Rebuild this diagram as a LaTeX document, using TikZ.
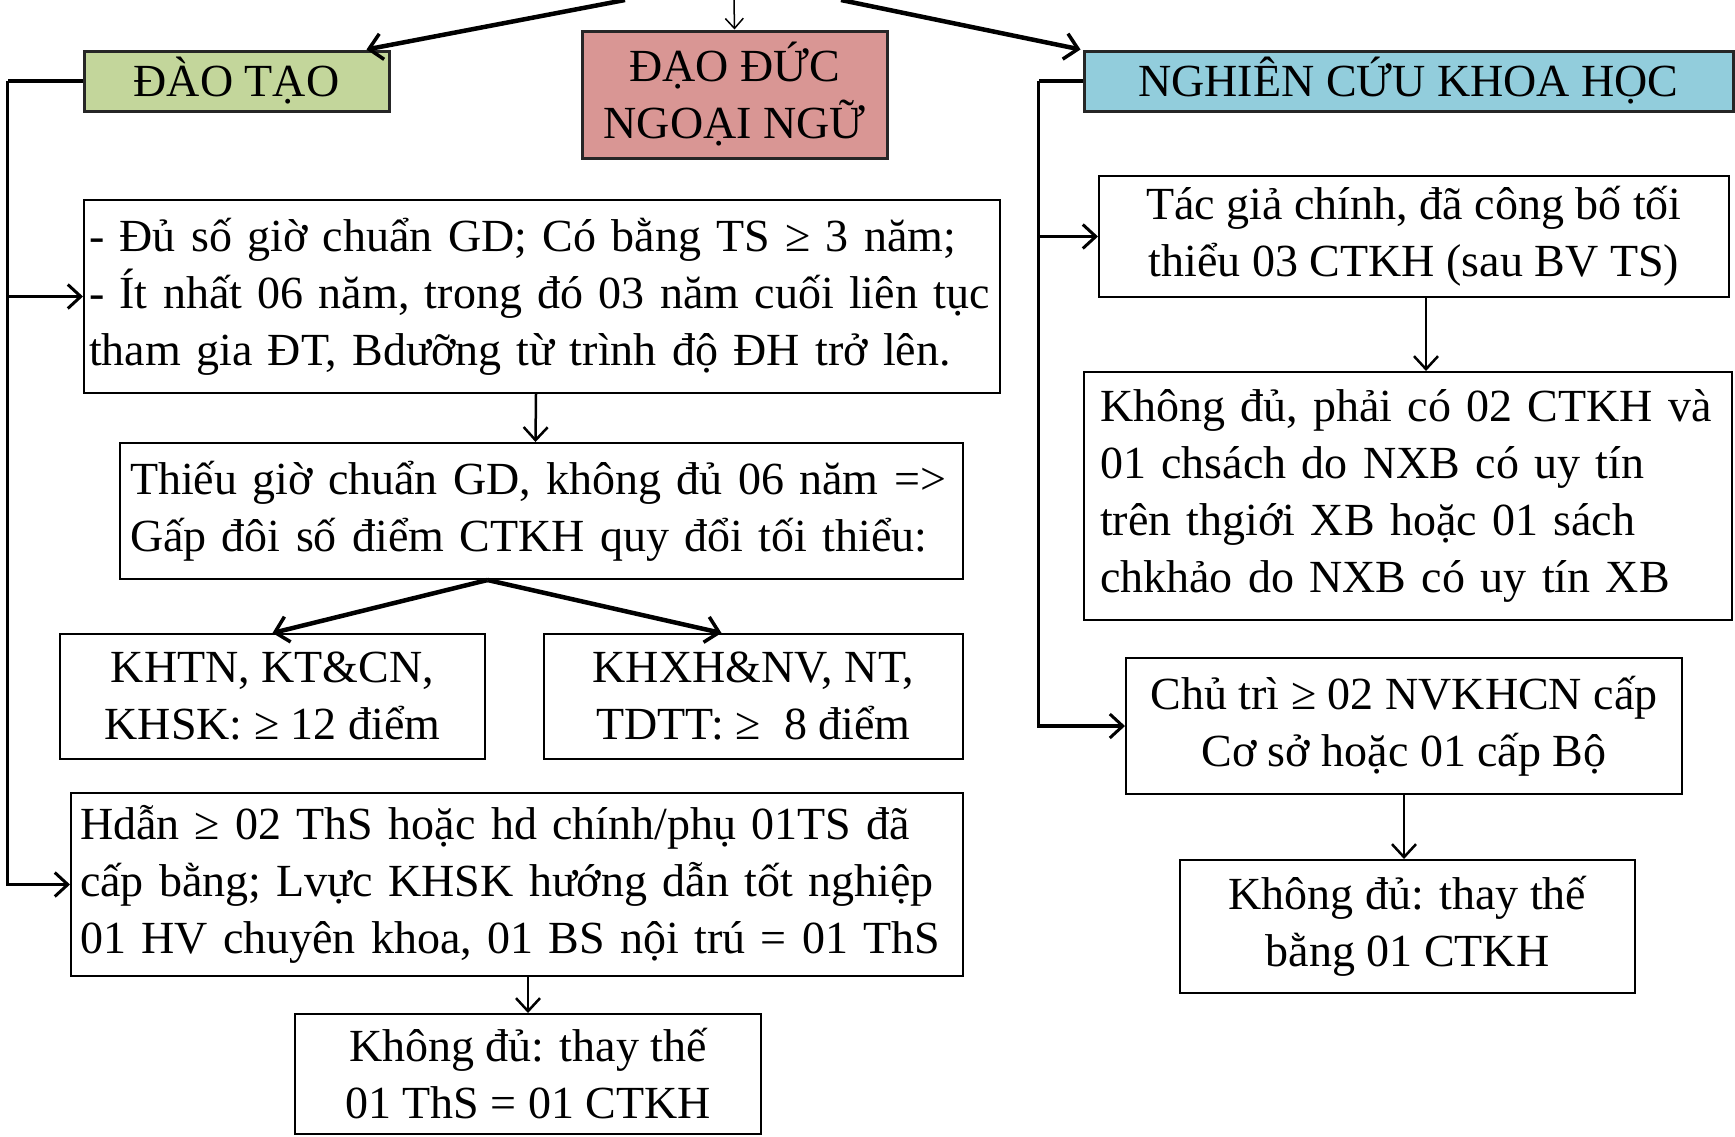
\documentclass[tikz,border=0pt]{standalone}
\usepackage{fontspec}
\setmainfont{Liberation Serif}
\usetikzlibrary{arrows.meta,calc}
\definecolor{dtgreen}{HTML}{C3D69B}
\definecolor{ddpink}{HTML}{D99694}
\definecolor{ncblue}{HTML}{92CDDC}
\tikzset{
  box/.style={draw=black, line width=2pt, inner sep=0pt, inner xsep=5pt,
    font=\fontsize{46}{57}\selectfont},
  hdr/.style={box, line width=3pt, draw=black!85},
  conn/.style={line width=3.5pt},
  barb/.style={-{Straight Barb[length=13pt,width=24pt,line width=3pt]}},
  thin arrow/.style={line width=2.5pt, -{Straight Barb[length=13pt,width=24pt,line width=2.5pt]}},
  thick arrow/.style={line width=4.5pt, -{Straight Barb[length=13pt,width=26pt,line width=3.5pt]}},
}
\begin{document}
\begin{tikzpicture}[x=1pt,y=-1pt]
\useasboundingbox (0,0) rectangle (1735,1136);
% header boxes
\node[hdr, fill=dtgreen, minimum width=305pt, minimum height=60pt] (dt) at (236.5,81) {ĐÀO TẠO};
\node[hdr, fill=ddpink, minimum width=305pt, minimum height=127pt, align=center] (dd) at (734.5,94.5) {ĐẠO ĐỨC\\NGOẠI NGỮ};
\node[hdr, fill=ncblue, minimum width=649pt, minimum height=60pt] (nc) at (1408.5,81) {NGHIÊN CỨU KHOA HỌC};
% left column
\node[box, minimum width=916pt, minimum height=193pt, text width=906pt, align=left] (b1) at (542,296.5)
 {- Đủ số giờ chuẩn GD; Có bằng TS ≥ 3 năm;\\- Ít nhất 06 năm, trong đó 03 năm cuối liên tục\\tham gia ĐT, Bdưỡng từ trình độ ĐH trở lên.};
\node[box, inner xsep=10pt, minimum width=843pt, minimum height=136pt, text width=823pt, align=left] (b2) at (541.5,511)
 {\raisebox{9pt}{\parbox[b]{823pt}{Thiếu giờ chuẩn GD, không đủ 06 năm =>\\Gấp đôi số điểm CTKH quy đổi tối thiểu:}}};
\node[box, minimum width=425pt, minimum height=125pt, align=center] (khtn) at (272.5,696.5)
 {KHTN, KT\&CN,\\KHSK: ≥ 12 điểm};
\node[box, minimum width=419pt, minimum height=125pt, align=center] (khxh) at (753.5,696.5)
 {KHXH\&NV, NT,\\TDTT: ≥~ 8 điểm};
\node[box, inner xsep=9pt, minimum width=892pt, minimum height=183pt, text width=874pt, align=left] (hd) at (517,884.5)
 {Hdẫn ≥ 02 ThS hoặc hd chính/phụ 01TS đã\\cấp bằng; Lvực KHSK hướng dẫn tốt nghiệp\\01 HV chuyên khoa, 01 BS nội trú = 01 ThS};
\node[box, minimum width=466pt, minimum height=120pt, align=center] (kd1) at (528,1074)
 {Không đủ: thay thế\\01 ThS = 01 CTKH};
% right column
\node[box, minimum width=630pt, minimum height=121pt, align=center] (tg) at (1414,236.5)
 {Tác giả chính, đã công bố tối\\thiểu 03 CTKH (sau BV TS)};
\node[box, inner xsep=16pt, minimum width=648pt, minimum height=248pt, text width=616pt, align=left] (kdp) at (1408,496)
 {Không đủ, phải có 02 CTKH và\\01 chsách do NXB có uy tín\\trên thgiới XB hoặc 01 sách\\chkhảo do NXB có uy tín XB};
\node[box, minimum width=556pt, minimum height=136pt, align=center] (ct) at (1404,726)
 {Chủ trì ≥ 02 NVKHCN cấp\\Cơ sở hoặc 01 cấp Bộ};
\node[box, minimum width=455pt, minimum height=133pt, align=center] (kd2) at (1407.5,926.5)
 {Không đủ: thay thế\\bằng 01 CTKH};
% top connectors
\coordinate (tl) at (625,0);
\coordinate (tm) at (734,0);
\coordinate (tr) at (841,0);
\draw[thick arrow] (tl) -- ($(dt.north east)+(-24,0)$);
\draw[line width=1.5pt, -{Straight Barb[length=10pt,width=18pt,line width=1.5pt]}] (tm) -- (dd.north);
\draw[thick arrow] (tr) -- ($(nc.north west)+(-2,0)$);
% left bracket
\draw[conn] (dt.west) -- ++(-75,0) coordinate (lc);
\draw[conn, barb] (lc) |- (hd.west);
\draw[conn, barb] (lc |- b1.west) -- (b1.west);
% right bracket
\draw[conn] (nc.west) -- ++(-44,0) coordinate (rc);
\draw[conn, barb] (rc) |- (ct.west);
\draw[conn, barb] (rc |- tg.west) -- (tg.west);
% vertical arrows
\draw[thin arrow] ($(b1.south)+(-6,0)$) -- ($(b2.north)+(-6,0)$);
\draw[thick arrow] ($(b2.south)+(-54,0)$) -- (khtn.north);
\draw[thick arrow] ($(b2.south)+(-54,0)$) -- ($(khxh.north)+(-32,0)$);
\draw[thin arrow] (kd1.north |- hd.south) -- (kd1.north);
\draw[thin arrow] ($(tg.south)+(12,0)$) -- ($(tg.south |- kdp.north)+(12,0)$);
\draw[thin arrow] (ct.south) -- (ct.south |- kd2.north);
\end{tikzpicture}
\end{document}
